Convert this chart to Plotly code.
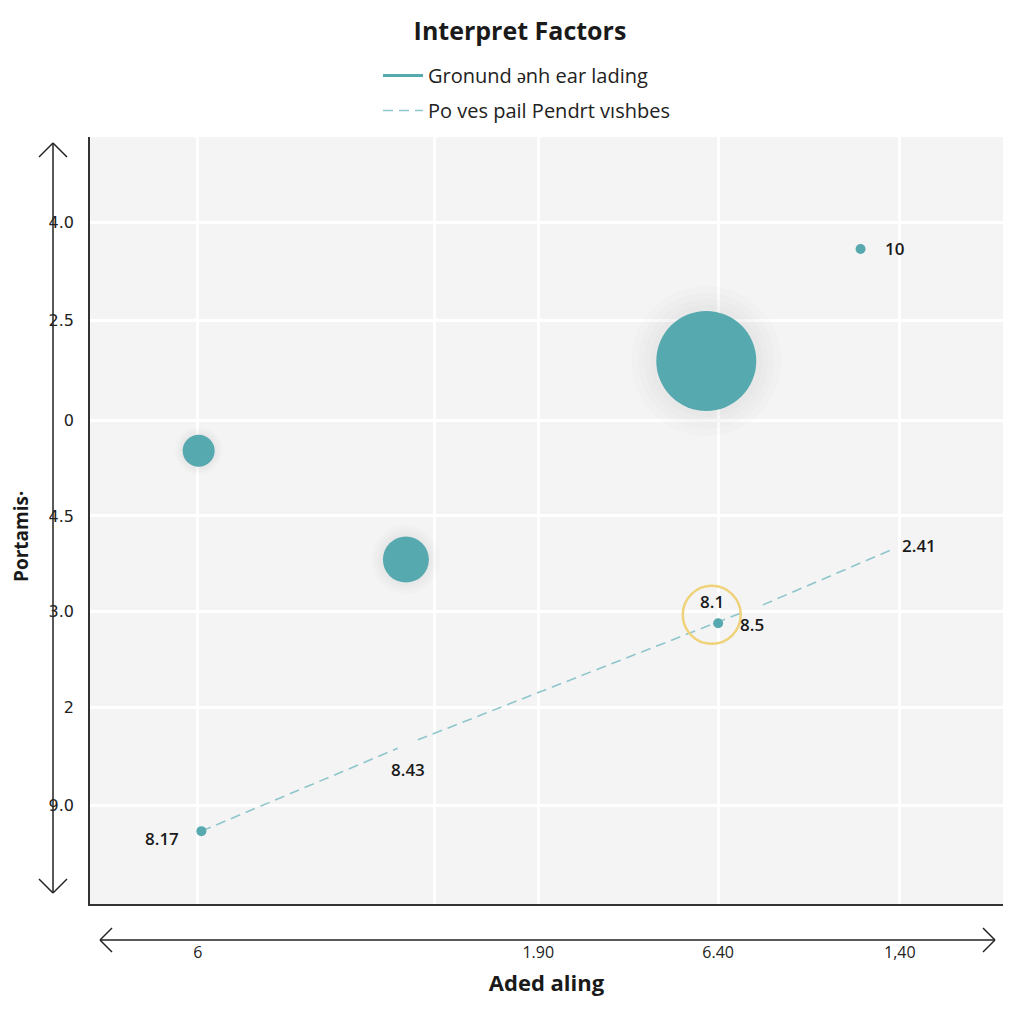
import plotly.graph_objects as go

# data (plot units 0-100 on both axes)
bubble_x = [11.9, 34.6, 67.5]
bubble_y = [59.1, 44.9, 70.8]
bubble_d = [32, 46, 100]

point_x = [84.4, 68.8, 12.2]
point_y = [85.4, 36.6, 9.5]

trend_x = [12.2, 33.7, None, 35.9, 71.2, None, 73.7, 88.2]
trend_y = [9.5, 20.3, None, 21.4, 37.9, None, 39.0, 46.4]

ring_x = [68.1]
ring_y = [37.7]

label_text = ["10", "8.1", "8.5", "2.41", "8.43", "8.17"]
label_x = [88.1, 68.1, 72.5, 90.8, 34.8, 7.9]
label_y = [85.4, 39.4, 36.4, 46.7, 17.5, 8.5]

x_ticks = [11.8, 37.7, 49.1, 68.8, 88.7]
x_ticktext = ["6", "", "1.90", "6.40", "1,40"]
y_ticks = [12.8, 25.6, 38.1, 50.6, 63.1, 76.1, 88.9]
y_ticktext = ["9.0", "2", "3.0", "4.5", "0", "2.5", "4.0"]

legend_names = ["Gronund ǝnh ear lading", "Po ves pail Pendrt vıshbes"]

teal = "#57a9b0"

fig = go.Figure()

# legend-only solid entry
fig.add_trace(go.Scatter(x=[None], y=[None], mode="lines", name=legend_names[0],
                         line=dict(color=teal, width=3), legendgroup="a"))

# dashed trend line
fig.add_trace(go.Scatter(x=trend_x, y=trend_y, mode="lines", name=legend_names[1],
                         line=dict(color="#8fc6cc", width=1.6, dash="10px,6px"),
                         legendgroup="b", hoverinfo="skip"))

# soft shadows behind bubbles
for grow in [1.5, 1.36, 1.24, 1.12]:
    fig.add_trace(go.Scatter(x=bubble_x, y=bubble_y, mode="markers", showlegend=False,
                             hoverinfo="skip",
                             marker=dict(size=[d * grow for d in bubble_d], opacity=1,
                                         color="rgba(80,80,80,0.018)", line=dict(width=0))))

fig.add_trace(go.Scatter(x=bubble_x, y=bubble_y, mode="markers", showlegend=False,
                         marker=dict(size=bubble_d, color=teal, opacity=1, line=dict(width=0))))

fig.add_trace(go.Scatter(x=ring_x, y=ring_y, mode="markers", showlegend=False, hoverinfo="skip",
                         marker=dict(symbol="circle-open", size=58, color="#efd27a",
                                     line=dict(color="#efd27a", width=2.5))))

fig.add_trace(go.Scatter(x=point_x, y=point_y, mode="markers", showlegend=False,
                         marker=dict(size=10, color=teal, opacity=1, line=dict(width=0))))

for t, x, y in zip(label_text, label_x, label_y):
    fig.add_annotation(x=x, y=y, text=t, showarrow=False,
                       font=dict(family="Open Sans", size=17, color="#1a1a1a", weight=600))


# screen pixel -> paper coordinates (plot area spans x 90..1003, y 137..904 on screen)
def pxx(p):
    return (p - 90) / 913


def pxy(p):
    return (904 - p) / 767


def seg(x0, y0, x1, y1):
    fig.add_shape(type="line", xref="paper", yref="paper",
                  x0=pxx(x0), y0=pxy(y0), x1=pxx(x1), y1=pxy(y1),
                  line=dict(color="#222222", width=1.5))


# decorative arrow axes
seg(53, 143, 53, 893)
seg(39, 157, 53, 143)
seg(53, 143, 67, 157)
seg(39, 879, 53, 893)
seg(53, 893, 67, 879)
seg(100, 940, 995, 940)
seg(112, 928, 100, 940)
seg(100, 940, 112, 952)
seg(983, 928, 995, 940)
seg(995, 940, 983, 952)

# y axis title
fig.add_annotation(xref="paper", yref="paper", x=pxx(21), y=pxy(537), text="<b>Portamis·</b>",
                   textangle=-90, showarrow=False, xanchor="center", yanchor="middle",
                   borderpad=0, font=dict(family="Open Sans", size=19, color="#1a1a1a"))

# page body has an 8px margin, so figure margins are offset by 8
fig.update_layout(
    width=1024, height=1024,
    margin=dict(l=82, r=29, t=129, b=128),
    paper_bgcolor="white",
    plot_bgcolor="#f4f4f4",
    title=dict(text="<b>Interpret Factors</b>", x=0.5, xanchor="center", y=0.986,
               font=dict(family="Open Sans", size=25, color="#1a1a1a")),
    legend=dict(x=pxx(378), y=pxy(56), xanchor="left", yanchor="top",
                bgcolor="rgba(0,0,0,0)", font=dict(family="Open Sans", size=20, color="#222"),
                tracegroupgap=6, itemwidth=40),
    xaxis=dict(range=[0, 100], tickvals=x_ticks, ticktext=x_ticktext,
               showgrid=True, gridcolor="white", gridwidth=2.5, zeroline=False,
               showline=True, linecolor="#333", linewidth=1.5,
               ticks="outside", ticklen=33, tickcolor="rgba(0,0,0,0)",
               tickfont=dict(family="Open Sans", size=16, color="#222"),
               title=dict(text="<b>Aded aling</b>", standoff=14,
                          font=dict(family="Open Sans", size=22, color="#1a1a1a"))),
    yaxis=dict(range=[0, 100], tickvals=y_ticks, ticktext=y_ticktext,
               showgrid=True, gridcolor="white", gridwidth=2.5, zeroline=False,
               showline=True, linecolor="#333", linewidth=1.5,
               ticks="outside", ticklen=11, tickcolor="rgba(0,0,0,0)",
               tickfont=dict(family="DejaVu Sans", size=16, color="#222")),
)

fig.write_html("out.html")
